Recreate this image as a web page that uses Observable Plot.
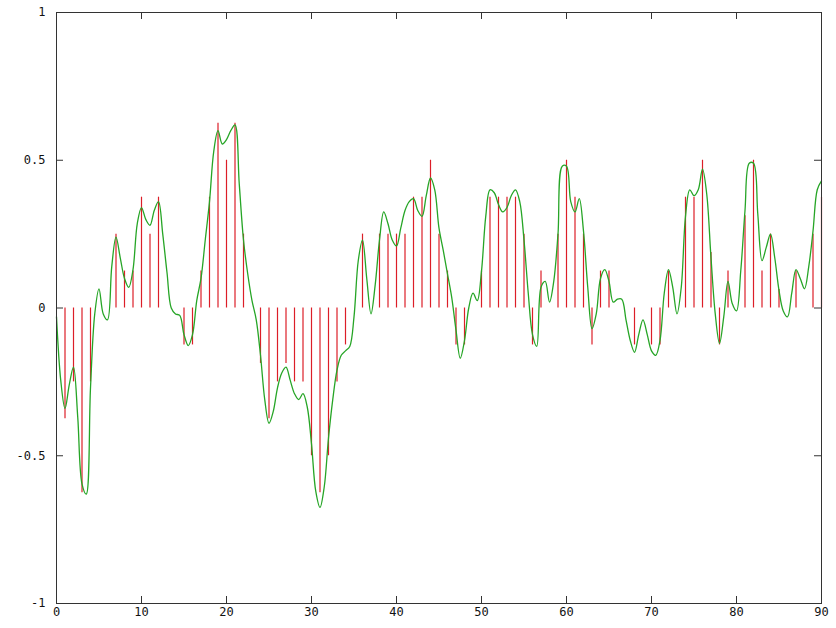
<!DOCTYPE html>
<html>
<head>
<meta charset="utf-8">
<script src="https://cdn.jsdelivr.net/npm/d3@7"></script>
<script src="https://cdn.jsdelivr.net/npm/@observablehq/plot@0.6"></script>
<style>
  html, body { margin: 0; padding: 0; background: #fff; }
  #chart svg { display: block; }
</style>
</head>
<body>
<div id="chart"></div>
<script>
// Quantized samples (red impulses), one per integer x from 0 to 90
const sampleValues = [
  0, -0.375, -0.25, -0.625, -0.25, 0, 0, 0.25, 0.125, 0.125,
  0.375, 0.25, 0.375, 0, 0, -0.125, -0.125, 0.125, 0.375, 0.625,
  0.5, 0.625, 0.25, 0, -0.1875, -0.375, -0.25, -0.1875, -0.25, -0.25,
  -0.5, -0.625, -0.5, -0.25, -0.125, 0, 0.25, 0, 0.25, 0.25,
  0.25, 0.25, 0.375, 0.375, 0.5, 0.25, 0.125, -0.125, -0.125, 0,
  0.125, 0.375, 0.375, 0.375, 0.375, 0.25, -0.125, 0.125, 0, 0.25,
  0.5, 0.375, 0.25, -0.125, 0.125, 0.125, 0, 0, -0.125, 0,
  -0.125, -0.125, 0.125, 0, 0.375, 0.375, 0.5, 0.1875, -0.125, 0.125,
  0, 0.3125, 0.5, 0.125, 0.25, 0.0625, 0, 0.125, 0, 0.25,
  0.375
];

// Continuous signal (green line), read every 0.5 from x = 0 to 90
const curveValues = [
  -0.03, -0.245, -0.34, -0.26, -0.20, -0.37, -0.595, -0.63, -0.27, -0.02,
  0.065, -0.02, -0.04, 0.14, 0.24, 0.17, 0.10, 0.07, 0.13, 0.285,
  0.34, 0.30, 0.28, 0.33, 0.36, 0.25, 0.12, 0.0, -0.02, -0.025,
  -0.09, -0.127, -0.09, 0.025, 0.10, 0.23, 0.36, 0.53, 0.60, 0.555,
  0.57, 0.60, 0.62, 0.42, 0.23, 0.115, 0.025, -0.04, -0.16, -0.31,
  -0.39, -0.35, -0.27, -0.22, -0.20, -0.245, -0.29, -0.31, -0.29, -0.335,
  -0.46, -0.62, -0.675, -0.605, -0.44, -0.31, -0.21, -0.16, -0.145, -0.13,
  -0.03, 0.16, 0.23, 0.10, -0.02, 0.08, 0.23, 0.325, 0.285, 0.23,
  0.21, 0.27, 0.33, 0.36, 0.37, 0.33, 0.31, 0.38, 0.44, 0.40,
  0.27, 0.195, 0.115, 0.035, -0.075, -0.17, -0.11, 0.0, 0.05, 0.025,
  0.125, 0.31, 0.40, 0.39, 0.35, 0.325, 0.34, 0.38, 0.40, 0.36,
  0.23, 0.05, -0.09, -0.13, 0.07, 0.09, 0.02, 0.09, 0.25, 0.48,
  0.48, 0.36, 0.325, 0.37, 0.26, 0.07, -0.07, -0.02, 0.10, 0.13,
  0.09, 0.02, 0.03, 0.03, -0.04, -0.11, -0.15, -0.09, -0.04, -0.09,
  -0.145, -0.16, -0.11, 0.05, 0.13, 0.07, -0.02, 0.07, 0.31, 0.40,
  0.38, 0.40, 0.47, 0.385, 0.17, -0.02, -0.12, -0.03, 0.09, 0.015,
  -0.01, 0.125, 0.33, 0.49, 0.49, 0.32, 0.16, 0.205, 0.25, 0.17,
  0.06, -0.01, -0.03, 0.05, 0.13, 0.10, 0.065, 0.14, 0.26, 0.40,
  0.43
];

const xTicks = [0, 10, 20, 30, 40, 50, 60, 70, 80, 90];
const yTicks = [-1, -0.5, 0, 0.5, 1];

const impulses = sampleValues.map((v, i) => ({x: i, v}));
const wave = curveValues.map((v, i) => ({x: i / 2, v}));

const W = 836, H = 628;
const mL = 56, mR = 15, mT = 12, mB = 25;
const innerW = W - mL - mR, innerH = H - mT - mB;
const tick = 7;
const axisColor = "#333";

const chart = Plot.plot({
  width: W,
  height: H,
  marginLeft: mL,
  marginRight: mR,
  marginTop: mT,
  marginBottom: mB,
  x: {domain: [0, 90]},
  y: {domain: [-1, 1]},
  style: {fontFamily: "'DejaVu Sans Mono', monospace", fontSize: "12px", color: "#111", background: "#fff"},
  marks: [
    Plot.ruleX(impulses, {x: "x", y1: 0, y2: "v", stroke: "#dc1e28", strokeWidth: 1.2}),
    Plot.line(wave, {x: "x", y: "v", stroke: "#26a526", strokeWidth: 1.3, curve: "catmull-rom"}),
    Plot.tickX(xTicks, {x: d => d, insetTop: innerH - tick, stroke: axisColor}),
    Plot.tickX(xTicks, {x: d => d, insetBottom: innerH - tick, stroke: axisColor}),
    Plot.tickY(yTicks, {y: d => d, insetRight: innerW - tick, stroke: axisColor}),
    Plot.tickY(yTicks, {y: d => d, insetLeft: innerW - tick, stroke: axisColor}),
    Plot.axisX({ticks: xTicks, tickSize: 0, tickPadding: 4, tickFormat: d => String(d), label: null}),
    Plot.axisY({ticks: yTicks, tickSize: 0, tickPadding: 11, tickFormat: d => String(d), label: null}),
    Plot.frame({stroke: axisColor, strokeWidth: 1})
  ]
});

document.getElementById("chart").appendChild(chart);
</script>
</body>
</html>
